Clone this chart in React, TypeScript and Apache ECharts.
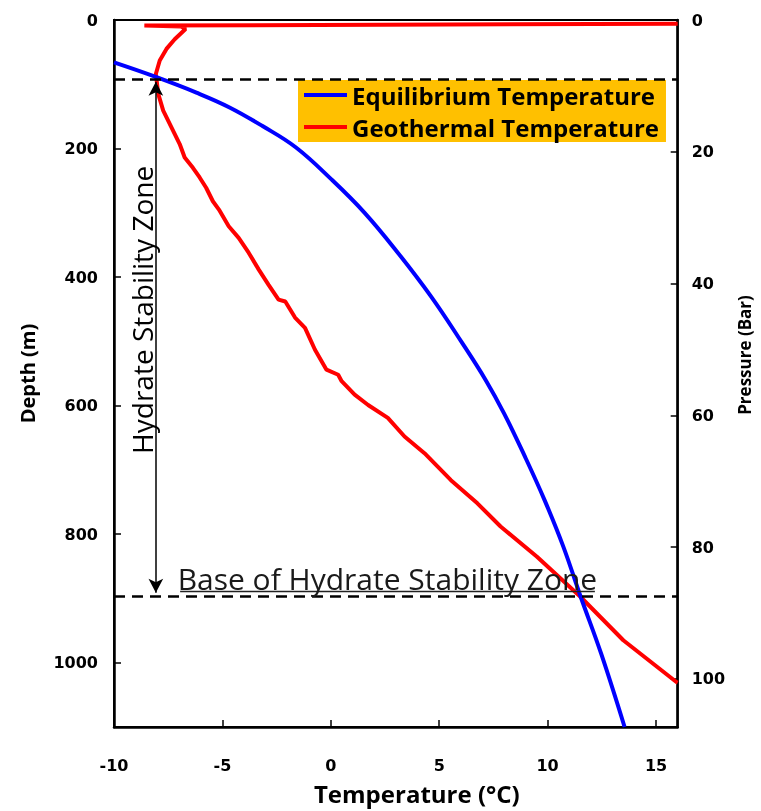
import React, { useEffect, useRef } from 'react';
import * as echarts from 'echarts';

// Equilibrium (hydrate) temperature curve: temperature (°C) vs depth (m)
const eqTemp = [-10, -8.04, -6.2, -4.67, -3.15, -1.62, 0.03, 1.56, 3.09, 4.62, 6.05, 7.14, 7.99, 8.95, 9.86, 10.72, 11.52, 12.47, 13.55];
const eqDepth = [66, 89, 113, 136, 165, 198, 248, 300, 362, 430, 502, 560, 612, 679, 747, 819, 897, 986, 1100];

// Geothermal temperature profile
const geoTemp = [16, -8.6, -6.9, -6.7, -7.2, -7.58, -7.89, -8.07, -8.04, -7.96, -7.73, -7.35, -6.97, -6.74, -6.36, -6.05, -5.75, -5.44, -5.16, -4.71, -4.25, -3.79, -3.33, -2.87, -2.41, -2.1, -1.65, -1.19, -0.73, -0.2, 0.34, 0.5, 1.1, 1.72, 2.63, 3.4, 4.32, 4.93, 5.54, 6.76, 7.83, 9.51, 11.5, 13.49, 15.94, 16];
const geoDepth = [6, 8.5, 10, 14, 30, 45, 63, 84, 92, 115, 141, 167, 193, 214, 230, 245, 261, 282, 295, 321, 339, 362, 388, 412, 435, 438, 463, 479, 513, 544, 552, 562, 583, 599, 619, 648, 674, 695, 716, 752, 788, 835, 897, 965, 1030, 1031];

// Hydrate stability zone limits (m)
const hszTop = 92;
const hszBase = 897;
const arrowTemp = -8.07;

const seriesNames = ['Equilibrium Temperature', 'Geothermal Temperature'];

const FONT = 'Open Sans';
const tickLabelStyle = { fontFamily: 'DejaVu Sans', fontWeight: 'bold' as const, fontSize: 16, color: '#000', formatter: (v: number) => String(v) };
const axisLine = { show: true, onZero: false, lineStyle: { color: '#000', width: 2.5 } };
const axisTick = { show: true, inside: true, length: 7, lineStyle: { color: '#000', width: 1.5 } };

export default function App() {
  const ref = useRef<HTMLDivElement>(null);
  useEffect(() => {
    const chart = echarts.init(ref.current!, null, { renderer: 'svg' });
    const eqData = eqTemp.map((t, i) => [t, eqDepth[i]]);
    const geoData = geoTemp.map((t, i) => [t, geoDepth[i]]);
    const dash = { type: [11, 7], width: 2.5, color: '#000' };
    chart.setOption({
      animation: false,
      textStyle: { fontFamily: FONT },
      grid: { left: 114, right: 81, top: 20, bottom: 84, show: true, borderColor: '#000', borderWidth: 2 },
      legend: {
        orient: 'vertical',
        left: 298,
        top: 80,
        backgroundColor: '#FFC000',
        padding: [3, 7, 3, 6],
        itemGap: 8,
        itemWidth: 43,
        itemHeight: 4,
        icon: 'rect',
        textStyle: { fontFamily: FONT, fontWeight: 'bold', fontSize: 24, color: '#000' },
        data: seriesNames,
      },
      xAxis: {
        type: 'value', min: -10, max: 16, interval: 5,
        name: 'Temperature (°C)', nameLocation: 'middle', nameGap: 54,
        nameTextStyle: { fontFamily: FONT, fontWeight: 'bold', fontSize: 24, color: '#000', padding: [0, 0, 0, 42] },
        axisLine, axisTick,
        axisLabel: { ...tickLabelStyle, margin: 30, showMaxLabel: false },
        splitLine: { show: false },
      },
      yAxis: [
        {
          type: 'value', inverse: true, min: 0, max: 1100, interval: 200,
          name: 'Depth (m)', nameLocation: 'middle', nameGap: 77, nameRotate: 90,
          nameTextStyle: { fontFamily: FONT, fontWeight: 'bold', fontSize: 20, color: '#000' },
          axisLine, axisTick,
          axisLabel: { ...tickLabelStyle, margin: 16, showMaxLabel: false },
          splitLine: { show: false },
        },
        {
          type: 'value', inverse: true, min: 0, max: 107.3, interval: 20, position: 'right',
          name: 'Pressure (Bar)', nameLocation: 'middle', nameGap: 56, nameRotate: 90,
          nameTextStyle: { fontFamily: FONT, fontWeight: 'bold', fontSize: 17, color: '#000', padding: [0, 0, 0, 37] },
          axisLine, axisTick,
          axisLabel: { ...tickLabelStyle, margin: 14, showMaxLabel: false },
          splitLine: { show: false },
        },
      ],
      series: [
        {
          name: seriesNames[1], type: 'line', data: geoData, symbol: 'none',
          lineStyle: { color: '#FF0000', width: 4 }, itemStyle: { color: '#FF0000' },
          z: 2,
        },
        {
          name: seriesNames[0], type: 'line', data: eqData, symbol: 'none', smooth: 0.4,
          lineStyle: { color: '#0000FF', width: 4 }, itemStyle: { color: '#0000FF' },
          z: 3,
          markLine: {
            silent: true, symbol: 'none', label: { show: false },
            data: [
              { yAxis: hszTop, lineStyle: dash },
              { yAxis: hszBase, lineStyle: dash },
              [
                { coord: [arrowTemp, hszTop + 4], symbol: 'arrow', symbolSize: [11, 14], lineStyle: { type: 'solid', width: 1.5, color: '#000' } },
                { coord: [arrowTemp, hszBase - 6], symbol: 'arrow', symbolSize: [11, 14] },
              ],
              [
                { coord: [-6.95, hszBase - 8], lineStyle: { type: 'solid', width: 1.3, color: '#222' } },
                { coord: [12.18, hszBase - 8] },
              ],
            ],
          },
          markPoint: {
            silent: true,
            symbol: 'circle', symbolSize: 0,
            data: [
              { coord: [-8.7, 451], label: { show: true, formatter: 'Hydrate Stability Zone', rotate: 90, fontFamily: FONT, fontSize: 28, color: '#000' } },
              { coord: [2.61, 869], label: { show: true, formatter: 'Base of Hydrate Stability Zone', fontFamily: FONT, fontSize: 30, color: '#1a1a1a' } },
            ],
          },
        },
      ],
    });
    return () => chart.dispose();
  }, []);
  return <div ref={ref} style={{ position: 'fixed', left: 0, top: 0, width: 761, height: 811 }} />;
}
